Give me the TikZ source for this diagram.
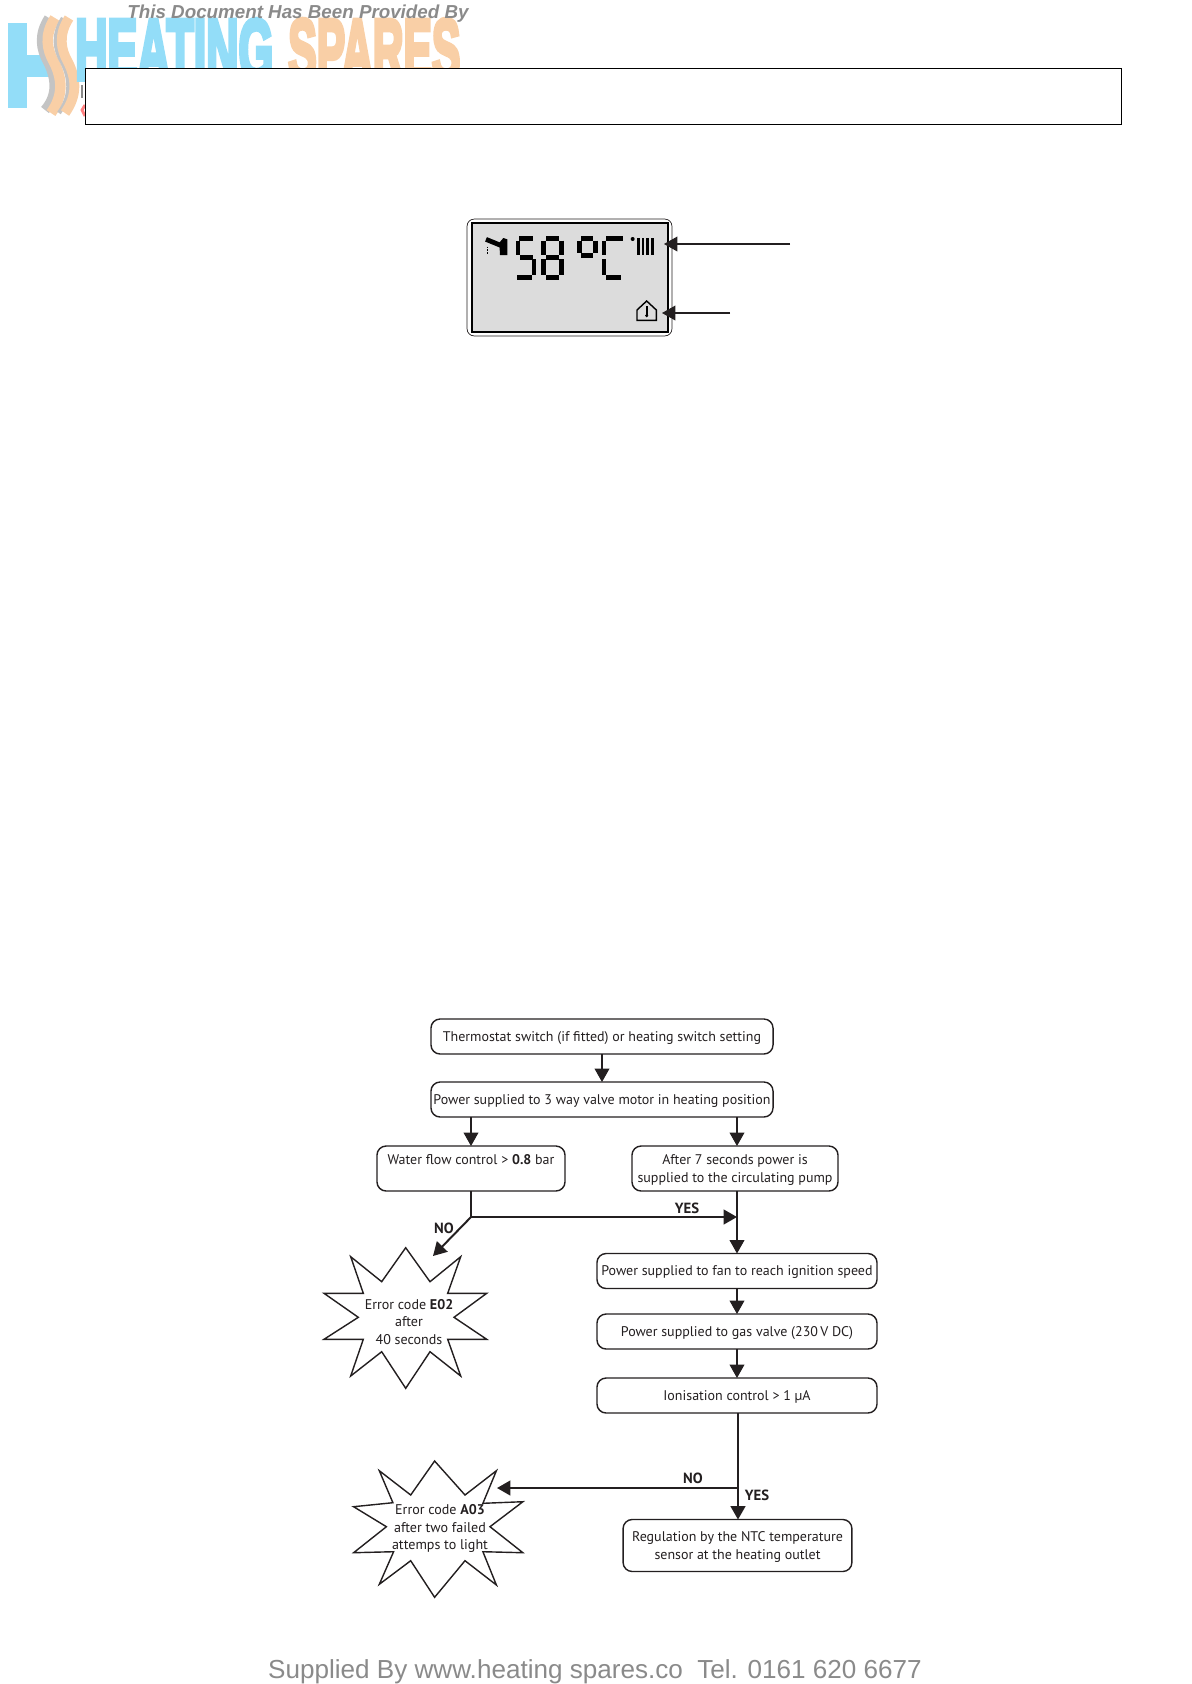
\documentclass[tikz,border=0pt]{standalone}
\usepackage{fontspec}
\setmainfont{PT Sans}
\newfontfamily\wmfont{Liberation Sans}
\newfontfamily\logofont[BoldFeatures={FakeBold=6}]{Liberation Sans}
\usetikzlibrary{positioning, arrows.meta, shapes.geometric}

\definecolor{inkdark}{HTML}{231F20}
\definecolor{lcdgray}{HTML}{DCDCDC}
\definecolor{logoblue}{HTML}{93DDF8}
\definecolor{logoorange}{HTML}{F9CFA6}
\definecolor{logogray}{HTML}{C4C4C4}
\definecolor{wmgray}{HTML}{8A8A8A}

\begin{document}
\begin{tikzpicture}[
    x=0.025cm, y=-0.025cm,
    flowbox/.style={rectangle, draw=inkdark, line width=1pt, rounded corners=6.5pt, align=center,
                    inner sep=0pt, outer sep=0pt, text=inkdark, text depth=-1.2pt,
                    font=\fontsize{9.95}{12.6}\selectfont},
    arrow/.style={-{Triangle[length=9.5pt, width=10.5pt]}, draw=inkdark, line width=0.8pt},
    arrowbold/.style={arrow, line width=1.4pt},
    answer/.style={text=inkdark, inner sep=0pt, font=\fontsize{10.5}{12}\selectfont\bfseries},
    startext/.style={text=inkdark, inner sep=0pt, align=center, font=\fontsize{10}{12.6}\selectfont},
    starline/.style={draw=inkdark, line width=1pt, fill=white, line join=miter},
    lcdseg/.style={draw=black, line width=3.4pt},
    lcdbar/.style={draw=black, line width=2pt},
    lcdthin/.style={draw=black, line width=1pt}
]
    \useasboundingbox (0,0) rectangle (1191,1684);

    % === Logo behind the top box ===
    \fill[logoblue] (8,23) rectangle (27,108);
    \fill[logoblue] (27,55) rectangle (50,77);
    \draw[logogray, line width=7pt] (49,18) .. controls (38,35) and (41,50) .. (48,62) .. controls (56,78) and (58,95) .. (45,110);
    \draw[logoorange, line width=7.5pt] (55,18) .. controls (44,35) and (47,50) .. (54,62) .. controls (62,78) and (64,95) .. (51,113);
    \draw[logogray, line width=3pt] (63,18) .. controls (52,35) and (55,50) .. (62,62) .. controls (70,78) and (72,95) .. (59,113);
    \draw[logoorange, line width=7pt] (69,18) .. controls (58,35) and (61,50) .. (68,62) .. controls (76,78) and (78,95) .. (65,113);
    \node[inner sep=0pt, text=logoblue, anchor=north west] (heating) at (75,19)
        {\resizebox{4.95cm}{1.5cm}{\logofont\bfseries HEATING}};
    \node[inner sep=0pt, text=logoorange, anchor=north west] (spares) at (288,19)
        {\resizebox{4.3cm}{1.5cm}{\logofont\bfseries SPARES}};
    \node[inner sep=0pt, text=wmgray, font=\fontsize{13.35}{15}\wmfont\bfseries\itshape] (provided) at (298,14)
        {This Document Has Been Provided By};
    \draw[wmgray, line width=2pt] (82,85) -- (82,98);
    \draw[red!50, line width=2pt] (85,105) -- (82,110) -- (85,116);

    % Top box
    \node[draw=black, fill=white, line width=0.6pt, minimum width=25.9cm, minimum height=1.4cm,
          inner sep=0pt, outer sep=0pt] (topbox) at (603.5,96) {};

    % === LCD display ===
    \node[rectangle, draw=inkdark, line width=0.5pt, rounded corners=5pt, minimum width=5.12cm,
          minimum height=2.92cm, inner sep=0pt] (lcd) at (569.5,277.5) {};
    \node[rectangle, draw=black, fill=lcdgray, line width=1.8pt, minimum width=4.9cm,
          minimum height=2.72cm, inner sep=0pt] (lcdscreen) at (570,277.5) {};
    \begin{scope}[shift={(450,200)}, x=0.00833cm, y=-0.00833cm]
        % tap
        \draw[lcdseg] (108,118) -- (152,136);
        \fill[black] (148,128) -- (160,114) -- (172,118) -- (172,165) -- (150,165) -- cycle;
        \draw[black, line width=1pt, densely dotted] (112,140) -- (112,162);
        % 5
        \draw[lcdseg] (208,116) -- (250,116);
        \draw[lcdseg] (204,122) -- (204,166);
        \draw[lcdseg] (210,172) -- (248,172);
        \draw[lcdseg] (252,178) -- (252,226);
        \draw[lcdseg] (202,232) -- (246,232);
        % 8
        \draw[lcdseg] (288,116) -- (328,116);
        \draw[lcdseg] (281,122) -- (281,166);
        \draw[lcdseg] (335,122) -- (335,166);
        \draw[lcdseg] (288,172) -- (328,172);
        \draw[lcdseg] (281,178) -- (281,226);
        \draw[lcdseg] (335,178) -- (335,226);
        \draw[lcdseg] (288,232) -- (328,232);
        % degree
        \draw[lcdseg] (394,116) -- (430,116);
        \draw[lcdseg] (388,122) -- (388,160);
        \draw[lcdseg] (436,122) -- (436,160);
        \draw[lcdseg] (394,166) -- (430,166);
        % C
        \draw[lcdseg] (468,116) -- (520,116);
        \draw[lcdseg] (462,122) -- (462,166);
        \draw[lcdseg] (462,178) -- (462,226);
        \draw[lcdseg] (468,232) -- (514,232);
        % radiator
        \fill[black] (548,117) circle (6);
        \draw[lcdbar] (565,115) -- (565,165);
        \draw[lcdbar] (579,115) -- (579,165);
        \draw[lcdbar] (593,115) -- (593,165);
        \draw[lcdbar] (607,115) -- (607,165);
        % house
        \draw[lcdthin] (561,330) -- (590,303) -- (619,330) -- (619,361) -- (561,361) -- cycle;
        \draw[black, line width=1.2pt] (590,318) -- (590,345);
        \fill[black] (590,347) circle (5);
    \end{scope}
    \coordinate (heatend) at (790,244);
    \coordinate (heattip) at (664,244);
    \coordinate (roomend) at (730,313);
    \coordinate (roomtip) at (662,313);
    \draw[arrow] (heatend) -- (heattip);
    \draw[arrow] (roomend) -- (roomtip);

    % === Flow chart boxes ===
    \node[flowbox, minimum width=8.55cm, minimum height=0.875cm] (thermostat) at (602,1036.5)
        {Thermostat switch (if fitted) or heating switch setting};
    \node[flowbox, minimum width=8.55cm, minimum height=0.875cm] (valve) at (602,1099.5)
        {Power supplied to 3 way valve motor in heating position};
    \node[flowbox, minimum width=4.7cm, minimum height=1.125cm] (waterflow) at (471,1168.5)
        {Water flow control > \textbf{0.8} bar\\ ~};
    \node[flowbox, minimum width=5.15cm, minimum height=1.125cm] (pump) at (735,1168.5)
        {After 7 seconds power is\\ supplied to the circulating pump};
    \node[flowbox, minimum width=7cm, minimum height=0.875cm] (fanspeed) at (737,1271)
        {Power supplied to fan to reach ignition speed};
    \node[flowbox, minimum width=7cm, minimum height=0.875cm] (gasvalve) at (737,1331.5)
        {Power supplied to gas valve (230\,V DC)};
    \node[flowbox, minimum width=7cm, minimum height=0.875cm] (ionisation) at (737,1395.5)
        {Ionisation control > 1 µA};
    \node[flowbox, minimum width=5.72cm, minimum height=1.3cm] (regulation) at (737.5,1545.5)
        {Regulation by the NTC temperature\\ sensor at the heating outlet};

    % Error stars
    \draw[starline] (405.7,1247.7) -- (430,1281.7) -- (460.7,1256.7) -- (447.7,1293.3) -- (486.7,1293.3)
        -- (454,1317.3) -- (486.7,1339.3) -- (447.7,1339.3) -- (460.7,1376) -- (430,1351.7)
        -- (405.7,1388.3) -- (381.7,1351.7) -- (350.7,1376) -- (363.3,1339.3) -- (324,1339.3)
        -- (358.3,1317.3) -- (324,1293.3) -- (363.3,1293.3) -- (350.7,1256.7) -- (381.7,1281.7) -- cycle;
    \node[startext] (errore) at (409,1322) {Error code \textbf{E02}\\ after\\ 40 seconds};
    \draw[starline] (434.6,1461) -- (465,1495) -- (496.4,1470.7) -- (482.9,1503.3) -- (522.9,1501.7)
        -- (490,1526.7) -- (522.9,1552.7) -- (482.9,1551.7) -- (496.4,1585) -- (465,1560.7)
        -- (434.6,1597.3) -- (410.7,1560.7) -- (379.3,1584.3) -- (393.6,1551.7) -- (353.6,1552.7)
        -- (386.4,1526.7) -- (353.6,1506.7) -- (392.9,1502.7) -- (379.3,1470.7) -- (410.7,1495) -- cycle;
    \node[startext] (errora) at (440,1528.5) {Error code \textbf{A03}\\ after two failed\\ attemps to light};

    % === Connectors ===
    \coordinate (flowjoin) at (471,1217);
    \coordinate (errortip) at (433,1256);
    \coordinate (ionjoin) at (738,1488);
    \coordinate (relighttip) at (497,1488);
    \draw[arrow] (thermostat) -- (valve);
    \draw[arrow] (valve.south -| waterflow) -- (waterflow);
    \draw[arrow] (valve.south -| fanspeed) -- (pump.north -| fanspeed);
    \draw[draw=inkdark, line width=0.8pt] (waterflow) -- (flowjoin);
    \draw[arrowbold] (flowjoin) -- (flowjoin -| fanspeed);
    \draw[arrowbold] (flowjoin) -- (errortip);
    \draw[arrow] (pump.south -| fanspeed) -- (fanspeed);
    \draw[arrow] (fanspeed) -- (gasvalve);
    \draw[arrow] (gasvalve) -- (ionisation);
    \draw[arrowbold] (ionisation.south -| ionjoin) -- (regulation.north -| ionjoin);
    \draw[arrowbold] (ionjoin) -- (relighttip);

    % Branch labels
    \node[answer] (yespump) at (687,1208) {YES};
    \node[answer] (noerror) at (444,1228) {NO};
    \node[answer] (norelight) at (693,1478) {NO};
    \node[answer] (yesntc) at (757,1495) {YES};

    % Footer
    \node[inner sep=0pt, text=wmgray, font=\fontsize{18.55}{20}\wmfont] (footer) at (595,1672)
        {Supplied By www.heating spares.co\ \ Tel. 0161 620 6677};
\end{tikzpicture}
\end{document}
